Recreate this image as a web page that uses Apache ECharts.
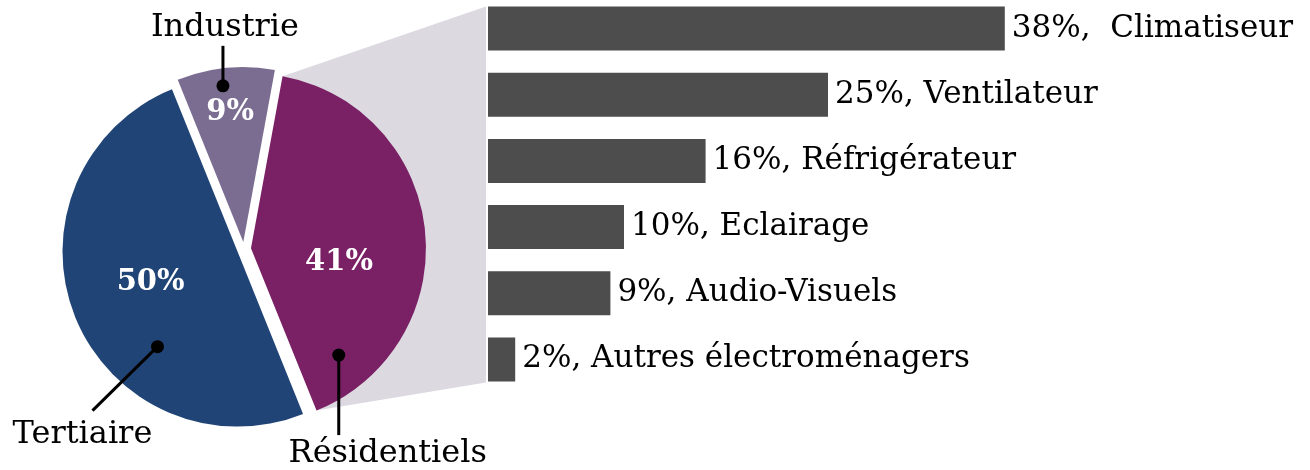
<!DOCTYPE html>
<html>
<head>
<meta charset="utf-8">
<script src="https://cdn.jsdelivr.net/npm/echarts@6/dist/echarts.min.js"></script>
<style>
  html, body { margin: 0; padding: 0; background: #fff; }
  #chart { width: 1310px; height: 470px; }
</style>
</head>
<body>
<div id="chart"></div>
<script>
// pie: répartition par secteur
const pieNames = ["Industrie", "Résidentiels", "Tertiaire"];
const pieValues = [9, 41, 50];

// barres: détail du résidentiel
const barNames = ["Climatiseur", "Ventilateur", "Réfrigérateur", "Eclairage", "Audio-Visuels", "Autres électroménagers"];
const barValues = [38, 25, 16, 10, 9, 2];
const barSeps = [",  ", ", ", ", ", ", ", ", ", ", "];

const pieColors = ["#7b6d91", "#7a2065", "#214476"];
const FONT = "DejaVu Serif";

const pieCenter = [244, 249];
const pieRadius = 175;
const pieStart = 112; // echarts degrees (ccw from 3 o'clock)
const pieOffset = 7;
// decalage des pourcentages dans les parts
const pctShift = [[-4, -40], [-2, 23], [-3, -3]];

let myChart = echarts.init(document.getElementById("chart"));

const total = pieValues.reduce((a, b) => a + b, 0);

// point dans une part: rFrac du rayon, aFrac de l'angle de la part
function slicePoint(i, rFrac, aFrac) {
  let start = 90 - pieStart; // horaire depuis midi
  for (let k = 0; k < i; k++) start += 360 * pieValues[k] / total;
  const span = 360 * pieValues[i] / total;
  const m = (start + span / 2) * Math.PI / 180;
  const a = (start + span * aFrac) * Math.PI / 180;
  const cx = pieCenter[0] + pieOffset * Math.sin(m);
  const cy = pieCenter[1] - pieOffset * Math.cos(m);
  const r = pieRadius * rFrac;
  return [cx + r * Math.sin(a), cy - r * Math.cos(a)];
}

myChart.setOption({
  animation: false,
  grid: {
    left: 488,
    top: -4.5,
    width: 816,
    height: 397,
    outerBoundsMode: "none"
  },
  xAxis: { type: "value", min: 0, max: 60, show: false },
  yAxis: { type: "category", data: barNames, inverse: true, show: false },
  series: [
    {
      type: "pie",
      center: pieCenter,
      radius: pieRadius,
      startAngle: pieStart,
      selectedMode: "multiple",
      selectedOffset: pieOffset,
      silent: true,
      z: 3,
      data: pieNames.map((n, i) => ({
        name: n,
        value: pieValues[i],
        selected: true,
        itemStyle: { color: pieColors[i] }
      })),
      label: {
        position: "inside",
        formatter: "{c}%",
        color: "#ffffff",
        fontFamily: FONT,
        fontWeight: "bold",
        fontSize: 29
      },
      labelLine: { show: false },
      labelLayout: function (params) {
        const s = pctShift[params.dataIndex];
        return { dx: s[0], dy: s[1] };
      }
    },
    {
      type: "bar",
      data: barValues,
      barWidth: 44,
      silent: true,
      itemStyle: { color: "#4d4d4d" },
      label: {
        show: true,
        position: "right",
        distance: 7,
        color: "#000000",
        fontFamily: FONT,
        fontSize: 31,
        formatter: function (p) {
          return p.value + "%" + barSeps[p.dataIndex] + p.name;
        }
      }
    }
  ]
});

// zone grise entre la part résidentielle et les barres
let firstBar = myChart.convertToPixel({ gridIndex: 0 }, [0, barNames[0]]);
let lastBar = myChart.convertToPixel({ gridIndex: 0 }, [0, barNames[barNames.length - 1]]);
let pStart = slicePoint(1, 1, 0);
let pEnd = slicePoint(1, 1, 1);
let edgeX = firstBar[0] - 2;

// annotations des parts
let dotInd = slicePoint(0, 0.9, 0.45);
let dotRes = slicePoint(1, 0.79, 0.882);
let dotTer = slicePoint(2, 0.71, 0.345);

function dot(p) {
  return { type: "circle", z: 100, shape: { cx: p[0], cy: p[1], r: 6.5 }, style: { fill: "#000" } };
}
function line(a, b) {
  return { type: "line", z: 100, shape: { x1: a[0], y1: a[1], x2: b[0], y2: b[1] }, style: { stroke: "#000", lineWidth: 3 } };
}
function name(p, text) {
  return {
    type: "text", z: 100, x: p[0], y: p[1],
    style: { text: text, fill: "#000", font: "32px '" + FONT + "'", align: "center", verticalAlign: "middle" }
  };
}

myChart.setOption({
  graphic: [
    {
      type: "polygon",
      z: 0,
      shape: {
        points: [pStart, [edgeX, firstBar[1] - 22], [edgeX, lastBar[1] + 23], pEnd]
      },
      style: { fill: "#dcd9e1" }
    },
    line(dotInd, [dotInd[0], dotInd[1] - 40]),
    dot(dotInd),
    name([dotInd[0] + 2, dotInd[1] - 58], pieNames[0]),
    line(dotRes, [dotRes[0], dotRes[1] + 80]),
    dot(dotRes),
    name([dotRes[0] + 49, dotRes[1] + 99], pieNames[1]),
    line(dotTer, [dotTer[0] - 65, dotTer[1] + 64]),
    dot(dotTer),
    name([dotTer[0] - 75, dotTer[1] + 88], pieNames[2])
  ]
});
</script>
</body>
</html>
